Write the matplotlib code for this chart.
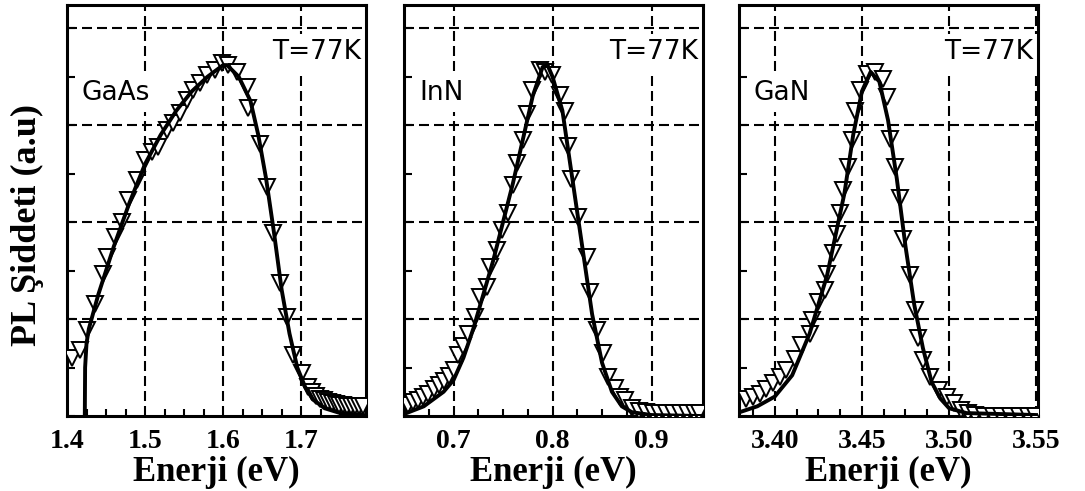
import matplotlib
matplotlib.use("Agg")
import matplotlib.pyplot as plt
from matplotlib.ticker import MultipleLocator

# GaAs data (markers) and fit line
gaas_x = [1.406, 1.417, 1.426, 1.436, 1.446, 1.451, 1.462, 1.470, 1.478,
          1.490, 1.500, 1.509, 1.517, 1.528, 1.536, 1.545, 1.554, 1.562,
          1.571, 1.579, 1.590, 1.599, 1.606, 1.618, 1.631, 1.632, 1.647,
          1.656, 1.664, 1.673, 1.682, 1.690, 1.701, 1.709, 1.714, 1.719,
          1.724, 1.729, 1.734, 1.739, 1.744, 1.749, 1.754, 1.759, 1.764,
          1.769, 1.774, 1.779]
gaas_y = [0.60, 0.68, 0.89, 1.16, 1.47, 1.64, 1.85, 2.00, 2.23,
          2.43, 2.64, 2.72, 2.77, 2.95, 3.02, 3.13, 3.26, 3.36,
          3.44, 3.52, 3.57, 3.64, 3.62, 3.55, 3.39, 3.18, 2.81,
          2.36, 1.89, 1.37, 1.02, 0.63, 0.44, 0.30, 0.25, 0.21,
          0.18, 0.16, 0.14, 0.13, 0.12, 0.11, 0.11, 0.10, 0.10,
          0.10, 0.10, 0.10]
gaas_fit_x = [1.4228, 1.4232, 1.425, 1.428, 1.44, 1.46, 1.48, 1.50, 1.52,
              1.54, 1.56, 1.58, 1.60, 1.605, 1.62, 1.635, 1.645, 1.655,
              1.665, 1.675, 1.685, 1.695, 1.705, 1.715, 1.73, 1.75, 1.78]
gaas_fit_y = [0.0, 0.5, 0.75, 0.9, 1.25, 1.75, 2.2, 2.6, 2.9,
              3.15, 3.35, 3.5, 3.62, 3.62, 3.5, 3.25, 2.9, 2.45,
              1.9, 1.3, 0.85, 0.5, 0.3, 0.17, 0.08, 0.03, 0.01]

# InN
inn_x = [0.654, 0.659, 0.664, 0.669, 0.674, 0.680, 0.685, 0.690, 0.695,
         0.700, 0.705, 0.710, 0.715, 0.722, 0.727, 0.734, 0.737, 0.744,
         0.749, 0.755, 0.760, 0.764, 0.770, 0.774, 0.779, 0.787, 0.792,
         0.799, 0.808, 0.813, 0.816, 0.819, 0.826, 0.835, 0.838, 0.845,
         0.851, 0.856, 0.863, 0.868, 0.873, 0.880, 0.887, 0.894, 0.901,
         0.908, 0.915, 0.922, 0.929, 0.936, 0.943, 0.948]
inn_y = [0.11, 0.14, 0.17, 0.20, 0.23, 0.28, 0.32, 0.36, 0.41,
         0.47, 0.63, 0.72, 0.85, 1.02, 1.23, 1.33, 1.54, 1.71,
         1.92, 2.09, 2.38, 2.61, 2.85, 3.12, 3.36, 3.57, 3.55,
         3.52, 3.31, 3.15, 2.79, 2.45, 2.05, 1.64, 1.28, 0.89,
         0.65, 0.40, 0.29, 0.20, 0.16, 0.08, 0.05, 0.04, 0.03,
         0.03, 0.03, 0.03, 0.03, 0.03, 0.03, 0.03]
inn_fit_x = [0.65, 0.67, 0.69, 0.70, 0.71, 0.72, 0.73, 0.74, 0.75, 0.76,
             0.77, 0.78, 0.79, 0.795, 0.80, 0.81, 0.82, 0.83, 0.84, 0.85,
             0.86, 0.87, 0.88, 0.90, 0.95]
inn_fit_y = [0.02, 0.10, 0.25, 0.37, 0.60, 0.90, 1.25, 1.60, 2.00, 2.40,
             2.85, 3.30, 3.60, 3.62, 3.50, 3.15, 2.45, 1.75, 1.05, 0.55,
             0.25, 0.10, 0.04, 0.01, 0.0]

# GaN
gan_x = [3.3837, 3.3875, 3.3914, 3.3950, 3.3990, 3.4030, 3.4067, 3.4115,
         3.4153, 3.4200, 3.4211, 3.4250, 3.4288, 3.4297, 3.4335, 3.4355,
         3.4374, 3.4393, 3.4422, 3.4441, 3.4460, 3.4489, 3.4527, 3.4575,
         3.4623, 3.4642, 3.4661, 3.4690, 3.4719, 3.4738, 3.4776, 3.4805,
         3.4824, 3.4853, 3.4891, 3.4940, 3.4988, 3.5026, 3.5070, 3.5110,
         3.5150, 3.5200, 3.5250, 3.5300, 3.5350, 3.5400, 3.5450, 3.5490]
gan_y = [0.18, 0.20, 0.23, 0.28, 0.34, 0.40, 0.47, 0.59,
         0.73, 0.85, 0.99, 1.18, 1.30, 1.47, 1.68, 1.88,
         2.09, 2.33, 2.57, 2.85, 3.15, 3.36, 3.53, 3.55,
         3.48, 3.29, 2.86, 2.57, 2.25, 1.83, 1.45, 1.09,
         0.80, 0.58, 0.40, 0.27, 0.20, 0.13, 0.06, 0.03,
         0.01, 0.0, 0.0, 0.0, 0.0, 0.0, 0.0, 0.0]
gan_fit_x = [3.38, 3.39, 3.40, 3.41, 3.42, 3.43, 3.44, 3.445, 3.45, 3.455,
             3.46, 3.465, 3.47, 3.475, 3.48, 3.485, 3.49, 3.495, 3.50,
             3.51, 3.55]
gan_fit_y = [0.04, 0.10, 0.20, 0.42, 0.85, 1.45, 2.30, 2.90, 3.35, 3.55,
             3.45, 3.05, 2.45, 1.75, 1.15, 0.70, 0.35, 0.18, 0.08,
             0.03, 0.01]

panels = [
    dict(name="GaAs", x=gaas_x, y=gaas_y, fx=gaas_fit_x, fy=gaas_fit_y,
         xlim=(1.4, 1.783), minor=0.025,
         ticks=["1.4", "1.5", "1.6", "1.7"], tickpos=[1.4, 1.5, 1.6, 1.7],
         left=67),
    dict(name="InN", x=inn_x, y=inn_y, fx=inn_fit_x, fy=inn_fit_y,
         xlim=(0.65, 0.952), minor=0.025,
         ticks=["0.7", "0.8", "0.9"], tickpos=[0.7, 0.8, 0.9],
         left=404),
    dict(name="GaN", x=gan_x, y=gan_y, fx=gan_fit_x, fy=gan_fit_y,
         xlim=(3.3795, 3.551), minor=0.0125,
         ticks=["3.40", "3.45", "3.50", "3.55"],
         tickpos=[3.40, 3.45, 3.50, 3.55], left=739),
]

W, H = 1085, 491
fig = plt.figure(figsize=(W / 100, H / 100), dpi=100)
serif = "Liberation Serif"
sans = "DejaVu Sans"
grid_style = dict(color="black", linewidth=1.5, linestyle=(0, (4.8, 2.4)))
label_box = dict(facecolor="white", edgecolor="none", pad=4)

for p in panels:
    ax = fig.add_axes([p["left"] / W, 75 / H, 299 / W, 411 / H])
    ax.set_xlim(*p["xlim"])
    ax.set_ylim(0, 4.24)
    ax.set_xticks(p["tickpos"])
    ax.set_xticklabels(p["ticks"], fontfamily=serif, fontweight="bold",
                       fontsize=20)
    ax.xaxis.set_minor_locator(MultipleLocator(p["minor"]))
    ax.set_yticks([1, 2, 3, 4])
    ax.set_yticklabels([])
    ax.yaxis.set_minor_locator(MultipleLocator(0.5))
    ax.tick_params(axis="both", which="both", direction="in", width=1.5)
    ax.tick_params(axis="x", which="major", length=0, pad=9)
    ax.tick_params(axis="x", which="minor", length=5)
    ax.tick_params(axis="y", which="both", length=6)
    ax.grid(True, which="major", **grid_style)
    for s in ax.spines.values():
        s.set_linewidth(2.2)

    ax.plot(p["x"], p["y"], linestyle="none", marker="v", markersize=11,
            markerfacecolor="white", markeredgecolor="black",
            markeredgewidth=1.4, zorder=3)
    ax.plot(p["fx"], p["fy"], color="black", linewidth=2.8, zorder=4)

    ax.text(0.985, 0.885, "T=77K", transform=ax.transAxes, ha="right",
            va="center", fontfamily=sans, fontsize=19, bbox=label_box,
            zorder=2.5)
    ax.text(0.05, 0.785, p["name"], transform=ax.transAxes, ha="left",
            va="center", fontfamily=sans, fontsize=19, bbox=label_box,
            zorder=2.5)
    ax.set_xlabel("Enerji (eV)", fontfamily=serif, fontweight="bold",
                  fontsize=25, labelpad=2)

fig.text(27 / W, 1 - 225 / H, "PL Şiddeti (a.u)", rotation=90,
         ha="center", va="center", fontfamily=serif, fontweight="bold",
         fontsize=26)

fig.savefig("out.png", dpi=100)
